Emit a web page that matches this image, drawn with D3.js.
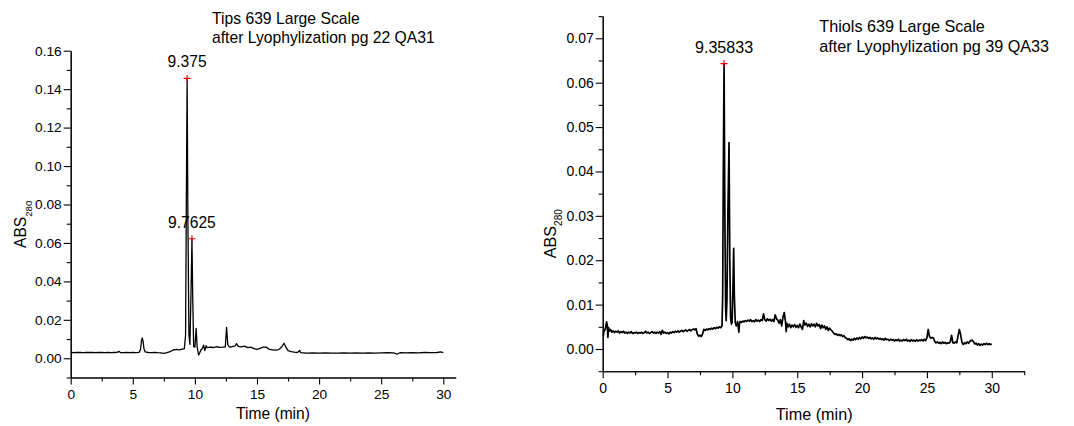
<!DOCTYPE html>
<html><head><meta charset="utf-8">
<script src="https://cdn.jsdelivr.net/npm/d3@7"></script>
<style>
body{margin:0;background:#fff}
svg{display:block;background:#fff}
text{font-family:"Liberation Sans",Arial,sans-serif;fill:#000}
</style></head><body>
<svg id="chart" width="1074" height="426"></svg>
<script>
// Chromatogram traces: [time (min), ABS280]
const tipsTrace = [[0,0.0030],[0.25,0.0029],[0.5,0.0031],[0.75,0.0030],[1,0.0029],[1.25,0.0031],[1.5,0.0030],[1.75,0.0031],[2,0.0029],[2.25,0.0030],[2.5,0.0031],[2.75,0.0029],[3,0.0030],[3.25,0.0029],[3.5,0.0030],[3.75,0.0031],[3.9,0.0036],[4,0.0030],[4.25,0.0029],[4.5,0.0030],[4.75,0.0029],[5,0.0030],[5.25,0.0029],[5.5,0.0031],[5.62,0.0045],[5.7,0.0090],[5.76,0.0106],[5.82,0.0092],[5.9,0.0050],[6,0.0033],[6.25,0.0030],[6.5,0.0029],[6.75,0.0031],[7,0.0029],[7.25,0.0028],[7.5,0.0025],[7.75,0.0029],[8,0.0035],[8.25,0.0043],[8.5,0.0046],[8.75,0.0044],[9,0.0048],[9.15,0.0050],[9.25,0.0120],[9.31,0.0800],[9.375,0.1456],[9.44,0.0700],[9.52,0.0120],[9.6,0.0072],[9.69,0.0350],[9.7625,0.0622],[9.83,0.0300],[9.9,0.0060],[10.0,0.0058],[10.1,0.0156],[10.18,0.0060],[10.3,0.0017],[10.4,0.0030],[10.5,0.0045],[10.6,0.0050],[10.7,0.0068],[10.8,0.0040],[10.9,0.0065],[11,0.0055],[11.25,0.0058],[11.5,0.0056],[11.75,0.0060],[12,0.0057],[12.25,0.0058],[12.45,0.0060],[12.55,0.0161],[12.65,0.0070],[12.8,0.0058],[13,0.0060],[13.25,0.0065],[13.35,0.0076],[13.5,0.0062],[13.75,0.0059],[14,0.0063],[14.25,0.0055],[14.5,0.0058],[14.75,0.0050],[15,0.0046],[15.25,0.0052],[15.5,0.0058],[15.75,0.0058],[16,0.0046],[16.25,0.0044],[16.5,0.0042],[16.75,0.0045],[17,0.0060],[17.17,0.0078],[17.35,0.0055],[17.5,0.0040],[17.75,0.0035],[18,0.0032],[18.25,0.0030],[18.45,0.0041],[18.5,0.0029],[18.75,0.0028],[19,0.0027],[19.5,0.0028],[20,0.0027],[20.5,0.0028],[21,0.0027],[21.5,0.0027],[22,0.0028],[22.5,0.0027],[23,0.0028],[23.5,0.0027],[24,0.0028],[24.5,0.0027],[25,0.0028],[25.5,0.0029],[26,0.0028],[26.3,0.0022],[26.5,0.0029],[27,0.0028],[27.5,0.0029],[28,0.0028],[28.5,0.0030],[29,0.0029],[29.5,0.0030],[29.8,0.0033],[30,0.0030]];

const thiolsTrace = [[0.05,0.0030],[0.1,0.0040],[0.2,0.0045],[0.3,0.0061],[0.35,0.0055],[0.4,0.0026],[0.45,0.0048],[0.5,0.0040],[0.6,0.0044],[0.7,0.0038],[0.8,0.0041],[0.9,0.0037],[1,0.0040],[1.1,0.0038],[1.2,0.0041],[1.3,0.0036],[1.4,0.0039],[1.5,0.0037],[1.6,0.0040],[1.7,0.0036],[1.8,0.0038],[1.9,0.0035],[2,0.0038],[2.1,0.0036],[2.2,0.0039],[2.3,0.0035],[2.4,0.0037],[2.5,0.0036],[2.6,0.0038],[2.7,0.0035],[2.8,0.0037],[2.9,0.0036],[3,0.0038],[3.1,0.0035],[3.2,0.0037],[3.3,0.0040],[3.4,0.0036],[3.5,0.0038],[3.6,0.0035],[3.7,0.0037],[3.8,0.0039],[3.9,0.0036],[4,0.0038],[4.1,0.0035],[4.2,0.0038],[4.3,0.0036],[4.4,0.0039],[4.5,0.0033],[4.6,0.0042],[4.7,0.0036],[4.8,0.0038],[4.9,0.0035],[5,0.0037],[5.1,0.0034],[5.2,0.0038],[5.3,0.0036],[5.4,0.0039],[5.5,0.0037],[5.6,0.0040],[5.7,0.0038],[5.8,0.0041],[5.9,0.0038],[6,0.0040],[6.1,0.0042],[6.2,0.0039],[6.3,0.0041],[6.4,0.0043],[6.5,0.0040],[6.6,0.0042],[6.7,0.0044],[6.8,0.0041],[6.9,0.0044],[7,0.0045],[7.1,0.0043],[7.2,0.0046],[7.3,0.0033],[7.4,0.0029],[7.5,0.0031],[7.6,0.0028],[7.7,0.0034],[7.8,0.0044],[7.9,0.0042],[8,0.0045],[8.1,0.0043],[8.2,0.0046],[8.3,0.0044],[8.4,0.0047],[8.5,0.0045],[8.6,0.0048],[8.7,0.0046],[8.8,0.0049],[8.9,0.0047],[9,0.0050],[9.1,0.0048],[9.2,0.0052],[9.25,0.0120],[9.3,0.0400],[9.35833,0.0643],[9.42,0.0300],[9.48,0.0090],[9.52,0.0064],[9.58,0.0110],[9.65,0.0300],[9.74,0.0465],[9.8,0.0200],[9.86,0.0070],[9.92,0.0056],[9.98,0.0060],[10.05,0.0150],[10.1,0.0227],[10.15,0.0120],[10.22,0.0060],[10.3,0.0052],[10.4,0.0062],[10.5,0.0038],[10.55,0.0058],[10.6,0.0062],[10.7,0.0060],[10.8,0.0063],[10.9,0.0061],[11,0.0064],[11.1,0.0062],[11.2,0.0065],[11.3,0.0063],[11.4,0.0066],[11.5,0.0062],[11.6,0.0064],[11.7,0.0061],[11.8,0.0066],[11.9,0.0063],[12,0.0065],[12.1,0.0062],[12.2,0.0066],[12.3,0.0064],[12.4,0.0079],[12.5,0.0066],[12.6,0.0063],[12.7,0.0068],[12.8,0.0064],[12.9,0.0067],[13,0.0063],[13.1,0.0066],[13.2,0.0062],[13.3,0.0077],[13.4,0.0068],[13.5,0.0065],[13.6,0.0058],[13.7,0.0066],[13.8,0.0052],[13.9,0.0072],[14,0.0082],[14.1,0.0060],[14.15,0.0039],[14.2,0.0058],[14.3,0.0050],[14.4,0.0056],[14.5,0.0048],[14.6,0.0054],[14.7,0.0050],[14.8,0.0055],[14.9,0.0049],[15,0.0053],[15.1,0.0048],[15.2,0.0056],[15.3,0.0050],[15.4,0.0044],[15.5,0.0064],[15.6,0.0054],[15.7,0.0058],[15.8,0.0051],[15.9,0.0056],[16,0.0050],[16.1,0.0057],[16.2,0.0052],[16.3,0.0056],[16.4,0.0050],[16.5,0.0058],[16.6,0.0052],[16.7,0.0055],[16.8,0.0046],[16.9,0.0054],[17,0.0048],[17.1,0.0052],[17.2,0.0044],[17.3,0.0050],[17.4,0.0042],[17.5,0.0047],[17.6,0.0043],[17.7,0.0040],[17.8,0.0036],[17.9,0.0033],[18,0.0034],[18.1,0.0031],[18.2,0.0033],[18.3,0.0030],[18.4,0.0032],[18.5,0.0028],[18.6,0.0030],[18.7,0.0026],[18.8,0.0024],[18.9,0.0021],[19,0.0023],[19.1,0.0019],[19.2,0.0022],[19.3,0.0020],[19.4,0.0024],[19.5,0.0021],[19.6,0.0025],[19.7,0.0022],[19.8,0.0026],[19.9,0.0023],[20,0.0027],[20.1,0.0024],[20.2,0.0028],[20.3,0.0025],[20.4,0.0027],[20.5,0.0024],[20.6,0.0026],[20.7,0.0023],[20.8,0.0025],[20.9,0.0022],[21,0.0026],[21.1,0.0023],[21.2,0.0025],[21.3,0.0022],[21.4,0.0024],[21.5,0.0021],[21.6,0.0023],[21.7,0.0020],[21.8,0.0024],[21.9,0.0021],[22,0.0022],[22.1,0.0019],[22.2,0.0022],[22.3,0.0020],[22.4,0.0021],[22.5,0.0018],[22.6,0.0021],[22.7,0.0019],[22.8,0.0022],[22.9,0.0018],[23,0.0020],[23.1,0.0018],[23.2,0.0021],[23.3,0.0019],[23.4,0.0022],[23.5,0.0018],[23.6,0.0020],[23.7,0.0017],[23.8,0.0021],[23.9,0.0018],[24,0.0020],[24.1,0.0017],[24.2,0.0021],[24.3,0.0018],[24.4,0.0020],[24.5,0.0019],[24.6,0.0021],[24.7,0.0018],[24.8,0.0022],[24.9,0.0019],[25,0.0025],[25.1,0.0044],[25.2,0.0028],[25.3,0.0024],[25.4,0.0026],[25.5,0.0025],[25.6,0.0017],[25.7,0.0014],[25.8,0.0016],[25.9,0.0013],[26,0.0015],[26.1,0.0012],[26.2,0.0016],[26.3,0.0013],[26.4,0.0015],[26.5,0.0012],[26.6,0.0014],[26.7,0.0013],[26.8,0.0016],[26.9,0.0031],[27,0.0014],[27.1,0.0013],[27.2,0.0016],[27.3,0.0014],[27.4,0.0030],[27.5,0.0044],[27.6,0.0032],[27.7,0.0015],[27.8,0.0010],[27.9,0.0014],[28,0.0012],[28.1,0.0016],[28.2,0.0013],[28.3,0.0017],[28.4,0.0019],[28.5,0.0020],[28.6,0.0016],[28.7,0.0011],[28.8,0.0013],[28.9,0.0009],[29,0.0012],[29.1,0.0008],[29.2,0.0011],[29.3,0.0009],[29.4,0.0012],[29.5,0.0010],[29.6,0.0013],[29.7,0.0010],[29.8,0.0012],[29.9,0.0010],[30,0.0011]];

// Labelled peaks: retention time label and peak height
const tipsPeaks = [{label: "9.375", abs: 0.1456}, {label: "9.7625", abs: 0.0622}];
const thiolsPeaks = [{label: "9.35833", abs: 0.0643}];

const tipsTitle = ["Tips 639 Large Scale", "after Lyophylization pg 22 QA31"];
const thiolsTitle = ["Thiols 639 Large Scale", "after Lyophylization pg 39 QA33"];

const timeTicks = [0, 5, 10, 15, 20, 25, 30];
const timeMinorTicks = [2.5, 7.5, 12.5, 17.5, 22.5, 27.5];
const tipsAbsTicks = [0, 0.02, 0.04, 0.06, 0.08, 0.10, 0.12, 0.14, 0.16];
const tipsAbsMinorTicks = [-0.01, 0.01, 0.03, 0.05, 0.07, 0.09, 0.11, 0.13, 0.15];
const thiolsAbsTicks = [0, 0.01, 0.02, 0.03, 0.04, 0.05, 0.06, 0.07];
const thiolsAbsMinorTicks = [-0.005, 0.005, 0.015, 0.025, 0.035, 0.045, 0.055, 0.065, 0.075];

const svg = d3.select("#chart");

function drawPanel(p) {
  const x = d3.scaleLinear().domain(p.xDomain).range(p.xRange);
  const y = d3.scaleLinear().domain(p.yDomain).range(p.yRange);
  const g = svg.append("g");

  // y axis: major + minor ticks
  g.append("g").attr("transform", `translate(${p.xRange[0]},0)`)
    .call(d3.axisLeft(y).tickValues(p.yTicks).tickSize(7).tickSizeOuter(0)
      .tickPadding(2).tickFormat(d3.format(".2f")));
  g.append("g").attr("transform", `translate(${p.xRange[0]},0)`)
    .call(d3.axisLeft(y).tickValues(p.yMinor).tickSize(4).tickSizeOuter(0).tickFormat(""));

  // x axis: major + minor ticks
  g.append("g").attr("transform", `translate(0,${p.yRange[0]})`)
    .call(d3.axisBottom(x).tickValues(timeTicks).tickSize(7).tickSizeOuter(0)
      .tickPadding(5).tickFormat(d3.format("d")));
  g.append("g").attr("transform", `translate(0,${p.yRange[0]})`)
    .call(d3.axisBottom(x).tickValues(p.xMinor).tickSize(4).tickSizeOuter(0).tickFormat(""));

  g.selectAll(".domain, .tick line").attr("stroke", "#000").attr("stroke-width", 1.1);
  g.selectAll(".tick text").attr("font-family", "Liberation Sans, Arial, sans-serif")
    .attr("font-size", p.tickFont).attr("fill", "#000");

  // trace
  const line = d3.line().x(d => x(d[0])).y(d => y(d[1]));
  g.append("path").datum(p.trace)
    .attr("fill", "none").attr("stroke", "#000").attr("stroke-width", p.traceWidth)
    .attr("stroke-linejoin", "round").attr("d", line);

  // peak markers and labels
  const pk = g.selectAll(".peak").data(p.peaks).enter().append("g").attr("class", "peak")
    .attr("transform", d => `translate(${x(+d.label)},${y(d.abs)})`);
  pk.append("path").attr("d", "M-3.5,0H3.5M0,-3.5V3.5")
    .attr("stroke", "#e00000").attr("stroke-width", 1.1);
  pk.append("text").attr("y", -11).attr("text-anchor", "middle")
    .attr("font-size", p.labelFont).text(d => d.label);

  // title
  g.append("text").attr("x", p.titleX).attr("y", p.titleY).attr("font-size", p.titleFont)
    .selectAll("tspan").data(p.title).enter().append("tspan")
    .attr("x", p.titleX).attr("dy", (d, i) => i ? p.titleLead : 0).text(d => d);

  // axis titles
  g.append("text").attr("x", p.xTitleX).attr("y", p.xTitleY).attr("text-anchor", "middle")
    .attr("font-size", p.axisFont).text("Time (min)");
  const yt = g.append("text").attr("transform", `translate(${p.yTitleX},${p.yTitleY}) rotate(-90)`)
    .attr("font-size", p.axisFont);
  yt.append("tspan").text("ABS");
  yt.append("tspan").attr("dy", 6).attr("font-size", p.axisFont * 0.62).text("280");
}

drawPanel({
  trace: tipsTrace, peaks: tipsPeaks, title: tipsTitle, traceWidth: 1.3,
  xDomain: [0, 31], xRange: [70.7, 455.7],
  yDomain: [-0.01, 0.16], yRange: [377.5, 50.7],
  yTicks: tipsAbsTicks, yMinor: tipsAbsMinorTicks, xMinor: timeMinorTicks,
  tickFont: 13.7, labelFont: 15.6, titleFont: 15.7, axisFont: 15.6,
  titleX: 212, titleY: 24.3, titleLead: 18.4,
  xTitleX: 273, xTitleY: 418.5, yTitleX: 25.5, yTitleY: 248
});

drawPanel({
  trace: thiolsTrace, peaks: thiolsPeaks, title: thiolsTitle, traceWidth: 1.7,
  xDomain: [0, 32.5], xRange: [602.7, 1024.2],
  yDomain: [-0.005, 0.075], yRange: [371.2, 16.1],
  yTicks: thiolsAbsTicks, yMinor: thiolsAbsMinorTicks, xMinor: timeMinorTicks.concat([32.5]),
  tickFont: 14, labelFont: 16.1, titleFont: 16.2, axisFont: 16.2,
  titleX: 819.3, titleY: 32.3, titleLead: 20,
  xTitleX: 814.2, xTitleY: 420, yTitleX: 555.5, yTitleY: 258.3
});
</script>
</body></html>
